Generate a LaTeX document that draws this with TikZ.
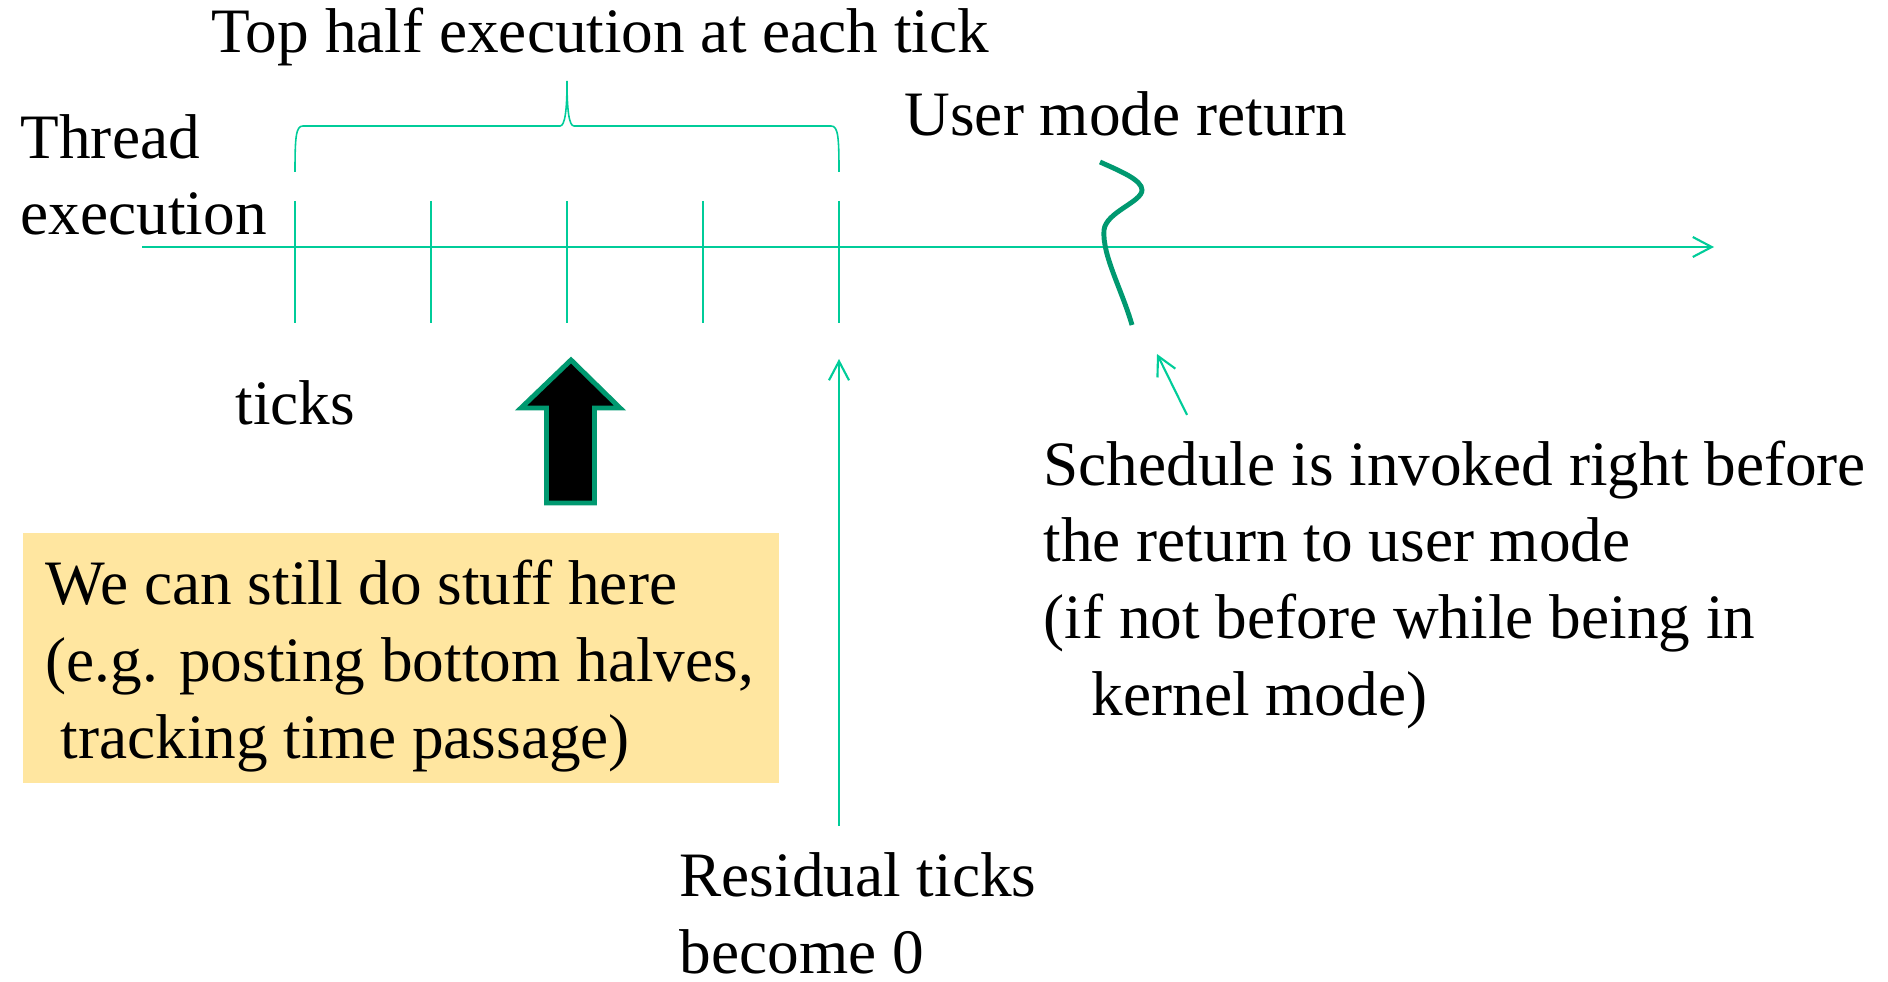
\documentclass[tikz,border=0pt]{standalone}
\usepackage{fontspec}
\setmainfont{Liberation Serif}
\usetikzlibrary{arrows.meta, calc}

\definecolor{tickgreen}{RGB}{0,204,153}
\definecolor{darkgreen}{RGB}{0,153,112}
\definecolor{notebg}{RGB}{255,230,160}

\tikzset{
    lbl/.style={font=\fontsize{18}{21.8}\selectfont, inner sep=0pt, align=left, anchor=base west},
    timeline/.style={tickgreen, line width=0.6pt},
    pointer/.style={tickgreen, line width=0.6pt, -{Straight Barb[length=0.19cm,width=0.2cm]}},
}

\begin{document}
\begin{tikzpicture}
    \useasboundingbox (0,0) rectangle (18.88,-9.82);

    \draw[pointer] (1.42,-2.47) -- (17.14,-2.47); % Time axis
    \foreach \x in {2.95,4.31,5.67,7.03,8.39}
        \draw[timeline] (\x,-2.01) -- (\x,-3.23); % Ticks

    % Brace over the ticks
    \draw[tickgreen, line width=0.45pt] (2.95,-1.72) .. controls (2.95,-1.36) and (2.96,-1.26) .. (3.03,-1.26)
        -- (5.60,-1.26) .. controls (5.65,-1.26) and (5.67,-1.10) .. (5.67,-0.81)
        .. controls (5.67,-1.10) and (5.69,-1.26) .. (5.74,-1.26)
        -- (8.31,-1.26) .. controls (8.38,-1.26) and (8.39,-1.36) .. (8.39,-1.72);

    % Return to user mode
    \draw[darkgreen, line width=1.4pt] (11.00,-1.62) .. controls (11.20,-1.71) and (11.42,-1.80) .. (11.42,-1.90)
        .. controls (11.42,-2.02) and (11.06,-2.12) .. (11.04,-2.30)
        .. controls (11.02,-2.55) and (11.22,-2.90) .. (11.32,-3.25);
    \coordinate (schedtip) at (11.57,-3.54);
    \coordinate (restip) at (8.39,-3.59);

    % Big up arrow
    \filldraw[fill=black, draw=darkgreen, line width=1.4pt, miter limit=10]
        (5.71,-3.60) -- (6.20,-4.08) -- (5.945,-4.08) -- (5.945,-5.03)
        -- (5.465,-5.03) -- (5.465,-4.08) -- (5.21,-4.08) -- cycle;

    \fill[notebg] (0.23,-5.33) rectangle (7.79,-7.83); % Note box

    % multi-line labels sit on their last baseline
    \node[lbl] (toplbl) at (2.11,-0.53) {Top half execution at each tick};
    \node[lbl] (thread) at (0.20,-2.35) {Thread\\execution};
    \node[lbl] (userret) at (9.04,-1.36) {User mode return};
    \node[lbl] (ticks) at (2.35,-4.24) {ticks};
    \node[lbl] (note) at (0.45,-7.58) {We can still do stuff here\\(e.g. posting bottom halves,\\\hspace*{0.15cm}tracking time passage)};
    \node[lbl] (sched) at (10.43,-7.15) {Schedule is invoked right before\\the return to user mode\\(if not before while being in\\\hspace*{0.48cm}kernel mode)};
    \node[lbl] (res) at (6.79,-9.73) {Residual ticks\\become 0};

    \draw[pointer] ($(res.north -| restip)+(0,0.26)$) -- (restip);
    \draw[pointer] ($(sched.north west)+(1.44,0.25)$) -- (schedtip);
\end{tikzpicture}
\end{document}
